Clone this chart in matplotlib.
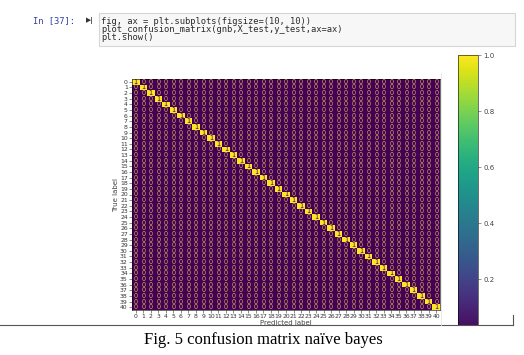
import numpy as np
import matplotlib
matplotlib.use("Agg")
import matplotlib.pyplot as plt
from matplotlib.patches import Rectangle
from matplotlib.lines import Line2D

# ---- data ----
classes = list(range(41))
diag_counts = [1] * 41          # correct predictions per class
cbar_ticks = [0.2, 0.4, 0.6, 0.8, 1.0]
code_lines = ["fig, ax = plt.subplots(figsize=(10, 10))",
              "plot_confusion_matrix(gnb,X_test,y_test,ax=ax)",
              "plt.show()"]
prompt = "In [37]:"
caption = "Fig. 5 confusion matrix naïve bayes"

cm = np.diag(np.array(diag_counts, dtype=float))

W, H = 524, 355
fig = plt.figure(figsize=(W / 100, H / 100), dpi=100)
fig.patch.set_facecolor("white")

def fx(x):
    return x / W

def fy(y):
    return 1 - y / H

# ---- notebook code cell ----
fig.patches.append(Rectangle((fx(99), fy(46)), fx(515) - fx(99), fy(13) - fy(46),
                             transform=fig.transFigure, facecolor="#f7f7f7",
                             edgecolor="#d6d6d6", lw=0.8))
mono = "DejaVu Sans Mono"
fig.text(fx(33), fy(21), prompt, family=mono, fontsize=6.3, color="#303F9F",
         va="center", ha="left")
fig.text(fx(86), fy(21), "▶|", family="DejaVu Sans", fontsize=4.8, color="#333333",
         va="center", ha="left", weight="bold")
for i, line in enumerate(code_lines):
    fig.text(fx(101), fy(21 + 8.5 * i), line, family=mono, fontsize=6.3,
             color="#2a2a2a", va="center", ha="left")

# ---- confusion matrix ----
ax = fig.add_axes([fx(132), fy(310), fx(440) - fx(132), fy(79) - fy(310)])
im = ax.imshow(cm, cmap="viridis", interpolation="nearest", aspect="auto",
               vmin=0, vmax=1)
thresh = (cm.max() + cm.min()) / 2.0
for i in range(cm.shape[0]):
    for j in range(cm.shape[1]):
        v = cm[i, j]
        col = "#440154" if v > thresh else "#d4ad5c"
        ax.text(j, i, f"{int(v)}", ha="center", va="center", fontsize=4.7,
                color=col)
ax.set_xticks(range(len(classes)))
ax.set_yticks(range(len(classes)))
ax.set_xticklabels([str(c) for c in classes])
ax.set_yticklabels([str(c) for c in classes])
ax.tick_params(labelsize=4.4, length=2, width=0.4, pad=1, colors="#333333")
ax.set_xlabel("Predicted label", fontsize=5, color="#444444", labelpad=0.5)
ax.set_ylabel("True label", fontsize=5, color="#444444", labelpad=1)
for s in ax.spines.values():
    s.set_linewidth(0.4)

# ---- colorbar ----
cax = fig.add_axes([fx(458), fy(325), fx(478) - fx(458), fy(55) - fy(325)])
cb = fig.colorbar(im, cax=cax)
cb.set_ticks(cbar_ticks)
cb.set_ticklabels([f"{t:.1f}" for t in cbar_ticks])
cax.set_ylim(0.036, 1.0)
cax.tick_params(labelsize=5, length=2, width=0.4, pad=2, colors="#444444")
cb.outline.set_linewidth(0.4)

# ---- frame lines of the screenshot ----
fig.lines.append(Line2D([fx(0), fx(513)], [fy(325), fy(325)],
                        transform=fig.transFigure, color="#555555", lw=0.8))
fig.lines.append(Line2D([fx(513), fx(513)], [fy(315), fy(325)],
                        transform=fig.transFigure, color="#555555", lw=0.8))
fig.lines.append(Line2D([fx(441), fx(441)], [fy(73), fy(325)],
                        transform=fig.transFigure, color="#e6e6e6", lw=0.6))

# ---- caption ----
fig.text(fx(263), fy(340), caption, family="Liberation Serif", fontsize=12,
         color="black", ha="center", va="center")

fig.savefig("out.png", dpi=100)
